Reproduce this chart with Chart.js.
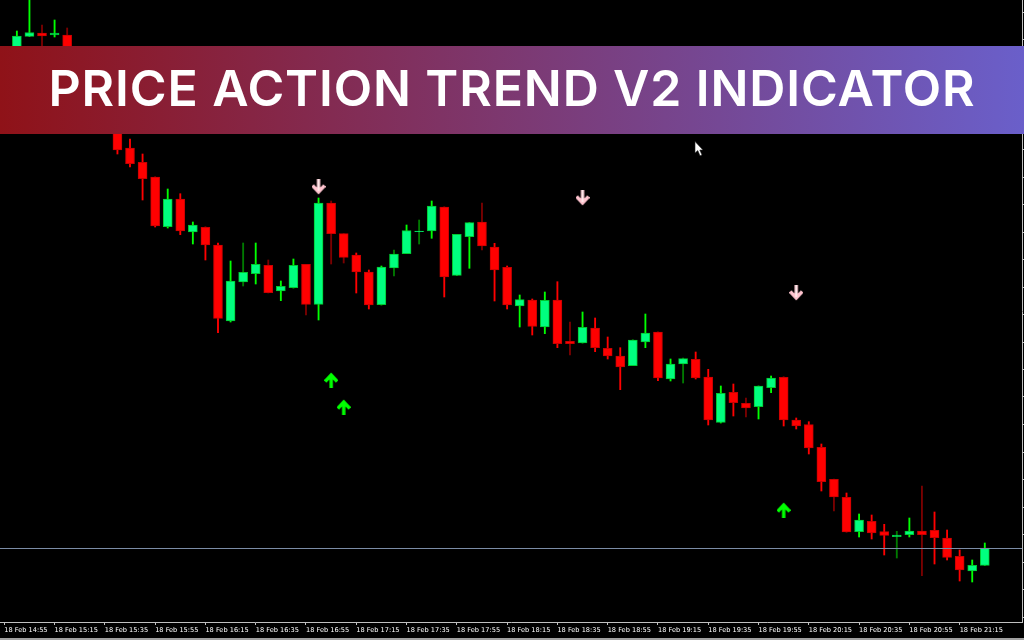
<!DOCTYPE html>
<html>
<head>
<meta charset="utf-8">
<title>Price Action Trend V2 Indicator</title>
<script src="https://cdn.jsdelivr.net/npm/chart.js@4/dist/chart.umd.min.js"></script>
<style>
  html, body { margin: 0; padding: 0; background: #a0a0a0; overflow: hidden; }
  #wrap { position: relative; width: 1024px; height: 638px; background: #000; }
  #banner {
    position: absolute; left: 0; top: 46px; width: 1024px; height: 88px;
    background: linear-gradient(90deg, #8f1218 0%, #6a5fca 100%);
    color: #fff; font: 600 50px Inter, sans-serif; line-height: 84px; letter-spacing: 0.87px;
    text-align: center; white-space: nowrap;
  }
</style>
</head>
<body>
<div id="wrap">
  <canvas id="chart" width="1024" height="638"></canvas>
  <div id="banner">PRICE ACTION TREND V2 INDICATOR</div>
</div>
<script>
// x tick labels, one every 4 bars
var tickLabels = ["18 Feb 14:55", "18 Feb 15:15", "18 Feb 15:35", "18 Feb 15:55", "18 Feb 16:15", "18 Feb 16:35", "18 Feb 16:55",
  "18 Feb 17:15", "18 Feb 17:35", "18 Feb 17:55", "18 Feb 18:15", "18 Feb 18:35", "18 Feb 18:55", "18 Feb 19:15",
  "18 Feb 19:35", "18 Feb 19:55", "18 Feb 20:15", "18 Feb 20:35", "18 Feb 20:55", "18 Feb 21:15"];

// candles start at bar 1, prices are on an arbitrary points scale
var opens = [568, 580.7, 584, 582, 582, 557, 537, 522, 502, 469, 454.7, 440, 390.3, 418, 385, 389.7, 372, 296, 335, 343.3,
  351.7, 326, 329.3, 352.7, 312.7, 414, 383.3, 362, 345, 312.3, 349, 363.3, 385.3, 386, 410, 341.7, 380.3, 395, 370, 349.7,
  311, 317, 290, 317, 275.7, 274, 289, 268.7, 261, 251.3, 275, 285, 238, 253, 257.7, 240, 194.7, 224.7, 213.7, 210.3,
  229.3, 239.7, 197, 192.3, 169.7, 137.7, 119.7, 85.3, 95.7, 85.3, 80.3, 82.3, 86, 86.7, 79, 60.7, 46, 51.7];
var highs = [586, 622, 592, 597, 589, 560, 540, 525, 502, 478, 463, 440, 428, 423.3, 395, 390, 374, 356, 374, 374,
  357, 336, 358, 352.7, 419, 416, 383.3, 364, 347, 351, 367, 392, 397, 416, 410, 382.7, 394.3, 414, 373.7, 351,
  322, 318, 325, 335.3, 295, 305, 299, 280, 269.3, 277, 303, 285, 258, 259, 265, 247.7, 231, 233, 219, 231,
  241, 240, 199, 195.3, 173, 138, 124, 103, 102, 92.7, 85.7, 99, 131, 105, 87, 67, 57, 74];
var lows = [568, 580.5, 570, 580, 557, 535, 520, 500, 463, 450, 417, 390, 389, 382.3, 373, 357, 284.3, 295, 331, 333,
  324, 316.3, 329, 302, 297, 353, 354, 324, 308, 312, 341, 363.3, 373, 378.7, 320, 341.7, 348.7, 367, 316, 308,
  290, 282, 283.3, 269.3, 262, 274, 265.3, 258, 227.3, 251.3, 269.3, 236.3, 236, 234, 238, 192, 194, 201, 200, 198,
  224.3, 191, 188, 163, 126, 106, 85, 80, 78, 62, 59, 80, 41.3, 53, 57, 36, 35, 51.7];
var closes = [581, 584.5, 581, 584, 557, 537, 522, 502, 467, 453.3, 438.3, 391, 418, 386, 392, 372, 298.7, 336, 344.7, 352.7,
  324.3, 330.7, 351.7, 312.7, 414, 383.3, 359.7, 345, 312, 350, 363, 386.3, 386, 411, 340, 382.7, 394.3, 371, 347, 312,
  317.3, 290.7, 316.7, 273.3, 273.3, 289.7, 269.3, 261, 250, 277, 284, 239, 253, 258.3, 239, 197, 223.7, 214.3, 209, 231,
  239, 197, 191, 169, 135.3, 120, 85, 97, 84, 81.7, 82, 86, 82.3, 79.3, 59.7, 47, 51.7, 69];

// bars whose wick looks dark in the picture
var dimWicks = [3, 5, 19, 21, 24, 26, 27, 31, 33, 38, 45, 54, 59, 66, 71, 73];

var bidPrice = 68.5;
var sellArrows = [{x: 25, y: 430}, {x: 46, y: 419}, {x: 63, y: 324}];
var buyArrows = [{x: 26, y: 237}, {x: 27, y: 210}, {x: 62, y: 107}];
var mousePointer = [{x: 55.3, y: 468}];

var bodies = [], wicks = [], bodyFill = [], bodyEdge = [], wickColor = [];
for (var i = 0; i < opens.length; i++) {
  var up = closes[i] >= opens[i];
  var dim = dimWicks.indexOf(i + 1) >= 0;
  bodies.push({x: i + 1, y: [opens[i], closes[i]]});
  wicks.push({x: i + 1, y: [lows[i], highs[i]]});
  bodyFill.push(up ? "#00ff7f" : "#ff0000");
  bodyEdge.push(up ? "#00c830" : "#c80000");
  if (dim) wickColor.push(up ? "#007a00" : "#7a0000");
  else wickColor.push(up ? "#00ff00" : "#ff0000");
}

function arrowIcon(color, inner, down) {
  var c = document.createElement("canvas");
  c.width = 14; c.height = 16;
  var g = c.getContext("2d");
  if (down) { g.translate(0, 16); g.scale(1, -1); }
  g.lineWidth = 3.4;
  g.strokeStyle = color;
  g.beginPath();
  g.moveTo(7, 16); g.lineTo(7, 3);
  g.moveTo(1, 9.5); g.lineTo(7, 3); g.lineTo(13, 9.5);
  g.stroke();
  if (inner) {
    g.lineWidth = 1.6;
    g.strokeStyle = inner;
    g.beginPath();
    g.moveTo(7, 16); g.lineTo(7, 4);
    g.stroke();
  }
  return c;
}

function pointerIcon() {
  var c = document.createElement("canvas");
  c.width = 11; c.height = 16;
  var g = c.getContext("2d");
  g.fillStyle = "#fff";
  g.strokeStyle = "#222";
  g.lineWidth = 0.6;
  g.beginPath();
  g.moveTo(1, 0.5); g.lineTo(1, 12); g.lineTo(3.8, 9.6); g.lineTo(6, 14.8);
  g.lineTo(8, 14); g.lineTo(5.8, 9); g.lineTo(9, 9);
  g.closePath();
  g.fill(); g.stroke();
  return c;
}

new Chart(document.getElementById("chart"), {
  type: "bar",
  data: {
    datasets: [
      {label: "wicks", data: wicks, backgroundColor: wickColor, barThickness: 1.2, grouped: false, order: 4},
      {label: "candles", data: bodies, backgroundColor: bodyFill, borderColor: bodyEdge, borderWidth: 1,
        borderSkipped: false, barThickness: 9, grouped: false, order: 3},
      {type: "line", label: "bid", data: [{x: -1, y: bidPrice}, {x: 82, y: bidPrice}], borderColor: "#7b8ca6",
        borderWidth: 1, pointRadius: 0, order: 2},
      {type: "scatter", label: "sell", data: sellArrows, pointStyle: arrowIcon("#ffc4cf", "#fff0f0", true), order: 1},
      {type: "scatter", label: "buy", data: buyArrows, pointStyle: arrowIcon("#00ff00", null, false), order: 1},
      {type: "scatter", label: "pointer", data: mousePointer, pointStyle: pointerIcon(), order: 0}
    ]
  },
  options: {
    responsive: false,
    animation: false,
    devicePixelRatio: 1,
    layout: {padding: 0, autoPadding: false},
    plugins: {legend: {display: false}, tooltip: {enabled: false}},
    scales: {
      x: {
        type: "linear",
        min: -0.342,
        max: 80.96,
        offset: false,
        afterFit: function(s) { s.height = 16; },
        afterBuildTicks: function(s) {
          s.ticks = tickLabels.map(function(t, n) { return {value: n * 4}; });
        },
        grid: {offset: false, drawOnChartArea: false, color: "#c0c0c0", tickLength: 3},
        border: {color: "#c0c0c0"},
        ticks: {
          autoSkip: false, maxRotation: 0, align: "start", padding: 1, color: "#ffffff",
          font: {family: "'DejaVu Sans'", size: 6.6},
          callback: function(v) { return tickLabels[v / 4]; }
        }
      },
      y: {
        position: "right",
        min: -5,
        max: 617,
        afterFit: function(s) { s.width = 2; },
        grid: {drawOnChartArea: false, color: "#c0c0c0", tickLength: 2},
        border: {color: "#c0c0c0"},
        ticks: {display: false, stepSize: 27.5, includeBounds: false}
      }
    }
  }
});
</script>
</body>
</html>
